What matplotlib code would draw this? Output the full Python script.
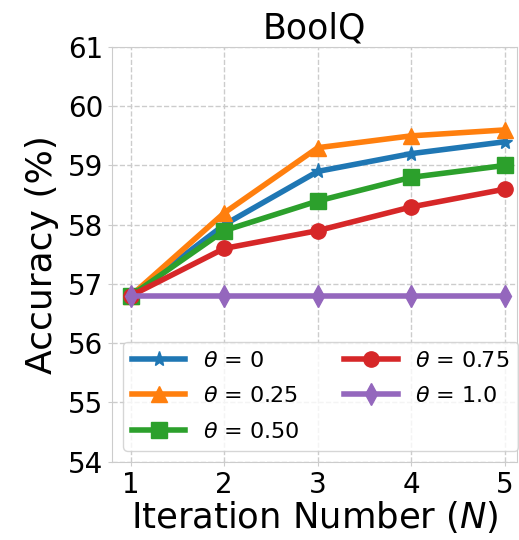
import numpy as np
import matplotlib
matplotlib.use("Agg")
import matplotlib.pyplot as plt

iters = [1, 2, 3, 4, 5]
acc_0 = [56.8, 58.0, 58.9, 59.2, 59.4]
acc_025 = [56.8, 58.2, 59.3, 59.5, 59.6]
acc_050 = [56.8, 57.9, 58.4, 58.8, 59.0]
acc_075 = [56.8, 57.6, 57.9, 58.3, 58.6]
acc_100 = [56.8, 56.8, 56.8, 56.8, 56.8]

series = [(acc_0, r"$\theta$ = 0", "#1f77b4", "*"),
          (acc_025, r"$\theta$ = 0.25", "#ff7f0e", "^"),
          (acc_050, r"$\theta$ = 0.50", "#2ca02c", "s"),
          (acc_075, r"$\theta$ = 0.75", "#d62728", "o"),
          (acc_100, r"$\theta$ = 1.0", "#9467bd", "d")]

plt.rcParams.update({"font.family": "DejaVu Sans"})
fig = plt.figure(figsize=(5.19, 5.4), dpi=100)
ax = fig.add_axes([0.216, 0.145, 0.78, 0.768])
for ys, lab, c, m in series:
    ax.plot(iters, ys, marker=m, color=c, lw=4, ms=11, label=lab)

ax.set_xlim(0.8, 5.13)
ax.set_ylim(54, 61)
ax.set_xticks(iters)
ax.set_yticks(range(54, 62))
ax.tick_params(labelsize=20, length=3, color="#cccccc")
ax.grid(True, ls="--", color="#cccccc", lw=1)
for s in ax.spines.values():
    s.set_color("#cccccc")
ax.set_title("BoolQ", fontsize=25, pad=6)
ax.set_xlabel("Iteration Number ($N$)", fontsize=25.5, labelpad=0)
ax.set_ylabel("Accuracy (%)", fontsize=26, labelpad=6)
ax.legend(ncol=2, fontsize=16, loc="lower left", bbox_to_anchor=(0.0, 0.0),
          handlelength=2.4, columnspacing=2.0, labelspacing=0.7, framealpha=0.8)
fig.savefig("out.png")
